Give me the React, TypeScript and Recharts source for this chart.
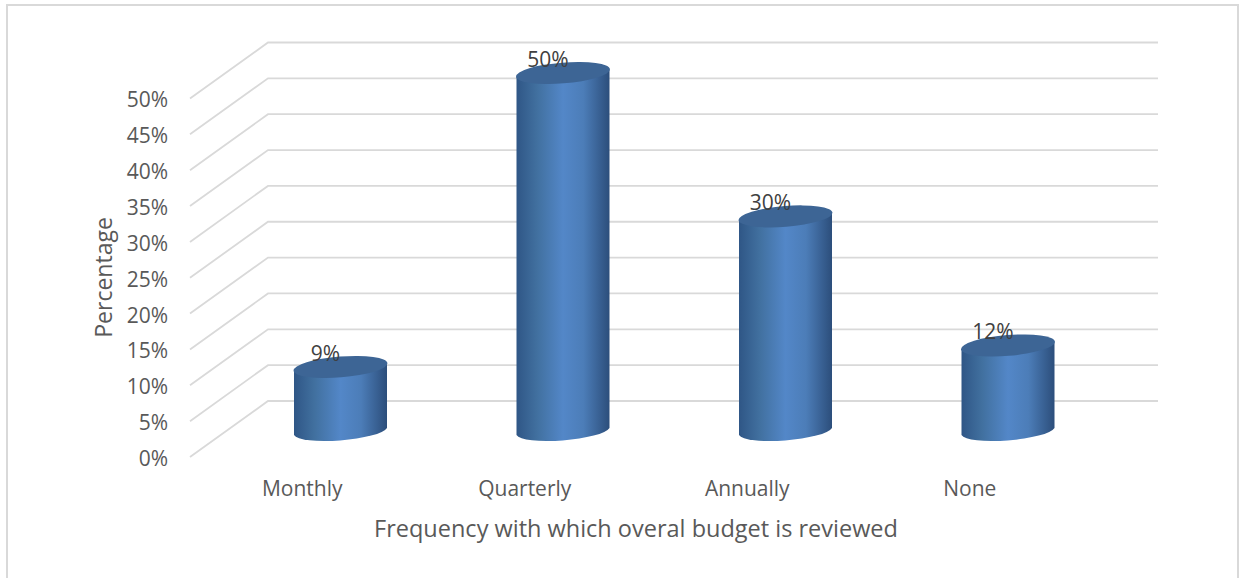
import { Bar, BarChart, CartesianGrid, LabelList, XAxis, YAxis } from "recharts";

const categories = ["Monthly", "Quarterly", "Annually", "None"];
const percentages = [9, 50, 30, 12];
const yTicks = [0, 5, 10, 15, 20, 25, 30, 35, 40, 45, 50];

const chartData = categories.map((name, i) => ({ name, value: percentages[i] }));

// fake 3D: the back wall sits up and right of the front axis
const DEPTH_X = 78;
const DEPTH_Y = 56;
const BAR_X = 39;
const BAR_Y = 25.5;
const TILT = -4.6;

const gridLine = (props: any) => {
  const { x1, x2, y1, key } = props;
  return (
    <path
      key={key}
      d={`M${x1} ${y1}L${x1 + DEPTH_X} ${y1 - DEPTH_Y}L${x2 + DEPTH_X} ${y1 - DEPTH_Y}`}
      fill="none"
      stroke="#d9d9d9"
      strokeWidth={1.8}
    />
  );
};

const Cylinder = (props: any) => {
  const { x, y, width, height } = props;
  const cx = x + width / 2 + BAR_X;
  const top = y - BAR_Y;
  const base = y + height - BAR_Y;
  const half = width / 2;
  const rx = half + 0.6;
  const ry = 10.4;
  return (
    <g>
      <path
        d={`M${cx - half} ${top + 3.5}L${cx - half} ${base + 3.5}A${rx} ${ry} ${TILT} 0 0 ${cx + half} ${base - 3.5}L${cx + half} ${top - 3.5}Z`}
        fill="url(#cylinderBody)"
      />
      <ellipse
        cx={cx}
        cy={top}
        rx={rx}
        ry={ry}
        fill="#3d6595"
        transform={`rotate(${TILT} ${cx} ${top})`}
      />
    </g>
  );
};

const ValueLabel = (props: any) => {
  const { x, y, width, value } = props;
  return (
    <text
      x={x + width / 2 + BAR_X - 15}
      y={y - BAR_Y - 6}
      textAnchor="middle"
      fontSize={21}
      fill="#404040"
    >
      {value}%
    </text>
  );
};

export default function App() {
  return (
    <div
      style={{
        position: "absolute",
        left: 0,
        top: 0,
        width: 1242,
        height: 578,
        overflow: "hidden",
        background: "#fff",
        fontFamily: "'Open Sans'",
      }}
    >
      <div
        style={{
          position: "absolute",
          left: 6,
          top: 4,
          width: 1229,
          height: 600,
          border: "2px solid #d9d9d9",
        }}
      />
      <div style={{ position: "absolute", left: 0, top: 0 }}>
        <BarChart
          width={1242}
          height={578}
          data={chartData}
          margin={{ left: 90, right: 162, top: 98.5, bottom: 30 }}
        >
          <defs>
            <linearGradient id="cylinderBody" x1="0" y1="0" x2="1" y2="0">
              <stop offset="0" stopColor="#2f5686" />
              <stop offset="0.22" stopColor="#41709f" />
              <stop offset="0.5" stopColor="#5387c8" />
              <stop offset="0.72" stopColor="#4c7db8" />
              <stop offset="1" stopColor="#2c4e7b" />
            </linearGradient>
          </defs>
          <CartesianGrid vertical={false} horizontal={gridLine} />
          <XAxis
            dataKey="name"
            axisLine={false}
            tickLine={false}
            height={91}
            tickMargin={18}
            tick={{ fontSize: 21, fill: "#595959", dx: 1 }}
            label={{
              value: "Frequency with which overal budget is reviewed",
              position: "insideBottom",
              offset: 11,
              dx: 1,
              fontSize: 23.5,
              fill: "#595959",
            }}
          />
          <YAxis
            domain={[0, 50]}
            ticks={yTicks}
            interval={0}
            tickFormatter={(v: number) => `${v}%`}
            axisLine={false}
            tickLine={false}
            width={100}
            tickMargin={16}
            tick={{ fontSize: 21, fill: "#595959", dy: 1.5 }}
            label={{
              value: "Percentage",
              angle: -90,
              position: "insideLeft",
              offset: 14,
              dy: 60,
              fontSize: 23,
              fill: "#595959",
            }}
          />
          <Bar dataKey="value" barSize={93} shape={Cylinder} isAnimationActive={false}>
            <LabelList dataKey="value" content={ValueLabel} />
          </Bar>
        </BarChart>
      </div>
    </div>
  );
}
